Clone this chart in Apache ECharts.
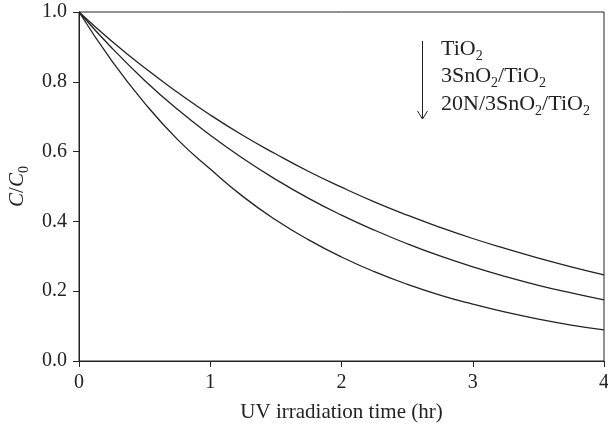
<!DOCTYPE html>
<html>
<head>
<meta charset="utf-8">
<script src="https://cdn.jsdelivr.net/npm/echarts@6/dist/echarts.min.js"></script>
<style>html,body{margin:0;padding:0;background:#fff;}#c{width:608px;height:427px;}</style>
</head>
<body>
<div id="c"></div>
<script>
const times = [0,0.25,0.5,0.75,1,1.25,1.5,1.75,2,2.25,2.5,2.75,3,3.25,3.5,3.75,4];
const tio2 = [1.0,0.916,0.840,0.770,0.705,0.646,0.593,0.543,0.498,0.456,0.418,0.383,0.351,0.322,0.295,0.270,0.247];
const snTio2 = [1.0,0.897,0.804,0.721,0.647,0.580,0.520,0.466,0.418,0.375,0.336,0.301,0.270,0.242,0.217,0.195,0.175];
const nSnTio2 = [1.0,0.860,0.739,0.635,0.550,0.471,0.404,0.347,0.298,0.256,0.220,0.189,0.163,0.140,0.120,0.103,0.089];
const xTicks = [0,1,2,3,4];
const yTicks = [0.0,0.2,0.4,0.6,0.8,1.0];
const legendLines = ['TiO{s|2}', '3SnO{s|2}/TiO{s|2}', '20N/3SnO{s|2}/TiO{s|2}'];

const font = '"Liberation Serif","DejaVu Serif",serif';
const ink = '#222';
const pair = (xs, ys) => xs.map((x, i) => [x, ys[i]]);
const lineStyle = {color:ink, width:1.3};
const mk = (name, ys) => ({name, type:'line', data:pair(times, ys), smooth:true, symbol:'none', lineStyle, silent:true});
const subRich = {s:{fontFamily:font, fontSize:14, color:ink, fill:ink, padding:[14,0,0,0]}};

const chart = echarts.init(document.getElementById('c'));
chart.setOption({
  animation:false,
  grid:{left:79, right:4, top:12, bottom:66, show:true, borderColor:ink, borderWidth:1, outerBoundsMode:'none', containLabel:false},
  xAxis:{type:'value', min:xTicks[0], max:xTicks[xTicks.length-1], interval:1,
    name:'UV irradiation time (hr)', nameLocation:'middle', nameGap:41,
    nameTextStyle:{fontFamily:font, fontSize:21, color:ink},
    axisLine:{lineStyle:{color:ink, width:1}},
    axisTick:{inside:false, length:6, lineStyle:{color:ink}},
    axisLabel:{fontFamily:font, fontSize:20, color:ink, margin:12},
    splitLine:{show:false}},
  yAxis:{type:'value', min:yTicks[0], max:yTicks[yTicks.length-1], interval:0.2,
    name:'{i|C}/{i|C}{s|0}', nameLocation:'middle', nameGap:38, nameRotate:90,
    nameTextStyle:{fontFamily:font, fontSize:21, color:ink,
      rich:{i:{fontFamily:font, fontSize:21, fontStyle:'italic', color:ink},
            s:{fontFamily:font, fontSize:14, color:ink, padding:[14,0,0,0]}}},
    axisLine:{lineStyle:{color:ink, width:1}},
    axisTick:{inside:false, length:6, lineStyle:{color:ink}},
    axisLabel:{fontFamily:font, fontSize:20, color:ink, margin:12, formatter:v=>v.toFixed(1)},
    splitLine:{show:false}},
  series:[mk('TiO2', tio2), mk('3SnO2/TiO2', snTio2), mk('20N/3SnO2/TiO2', nSnTio2)],
  graphic:[
    {type:'line', shape:{x1:422.5, y1:41, x2:422.5, y2:119}, style:{stroke:ink, lineWidth:1}},
    {type:'polyline', shape:{points:[[417.5,111],[422.5,119],[427.5,111]]}, style:{stroke:ink, lineWidth:1, fill:null}}
  ].concat(legendLines.map((t, i) => ({
    type:'text', left:441, top:38 + i*27.5,
    style:{text:t, fontFamily:font, fontSize:22, fill:ink, rich:subRich}
  })))
});
</script>
</body>
</html>
